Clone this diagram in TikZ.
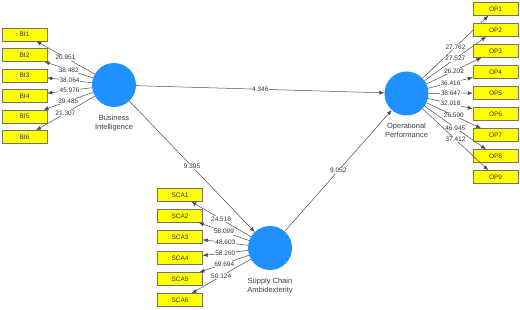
\documentclass[tikz,border=0pt]{standalone}
\usepackage{fontspec}
\setmainfont{Liberation Sans}
\usetikzlibrary{arrows.meta}
\definecolor{latentblue}{HTML}{1E90FF}
\definecolor{itemyellow}{HTML}{FFFF00}
\tikzset{
  latent/.style={circle, fill=latentblue, minimum size=44pt, inner sep=0pt},
  item/.style={draw=black!55, fill=itemyellow, minimum width=45pt, minimum height=13pt,
    inner sep=0pt, font=\fontsize{6.5}{7}\selectfont, text=black!80},
  relpath/.style={draw=black!70, line width=0.5pt, -{Latex[length=5pt,width=4pt]}},
  coef/.style={fill=white, inner sep=0.6pt, font=\fontsize{6.5}{7}\selectfont, text=black!80},
  caption/.style={align=center, font=\fontsize{7.5}{9}\selectfont, text=black!75},
}
\begin{document}
\begin{tikzpicture}[x=1pt, y=-1pt]
    \useasboundingbox (0,0) rectangle (520,310);

    %constructs
    \node[latent] (BI) at (114,85) {};
    \node[latent] (OP) at (406.5,93.5) {};
    \node[latent] (SCA) at (270,248) {};

    %construct names
    \node[caption, below=4pt] (BIname) at (BI.south) {Business\\Intelligence};
    \node[caption, below=4pt] (OPname) at (OP.south) {Operational\\Performance};
    \node[caption, below=4pt] (SCAname) at (SCA.south) {Supply Chain\\Ambidexterity};

    %indicators (outer loadings)
    \foreach \i/\w in {1/20.951,2/38.482,3/38.064,4/45.976,5/39.485,6/21.307}{
        \node[item] (BI\i) at (24.5,{34.5+20.5*(\i-1)}) {BI\i};
        \draw[relpath] (BI) -- (BI\i) node[coef, midway] {\w};
    }
    \foreach \i/\w in {1/27.762,2/27.527,3/26.202,4/36.416,5/38.647,6/32.018,7/26.500,8/46.945,9/37.412}{
        \node[item] (OP\i) at (495.5,{9+21*(\i-1)}) {OP\i};
        \draw[relpath] (OP) -- (OP\i) node[coef, midway] {\w};
    }
    \foreach \i/\w in {1/24.518,2/58.099,3/48.603,4/58.260,5/69.694,6/50.124}{
        \node[item] (SCA\i) at (180,{195+21*(\i-1)}) {SCA\i};
        \draw[relpath] (SCA) -- (SCA\i) node[coef, midway] {\w};
    }

    %structural paths
    \draw[relpath] (BI) -- (OP) node[coef, midway] {4.346};
    \draw[relpath] (BI) -- (SCA) node[coef, midway] {9.395};
    \draw[relpath] (SCA) -- (OP) node[coef, midway] {9.052};
\end{tikzpicture}
\end{document}
